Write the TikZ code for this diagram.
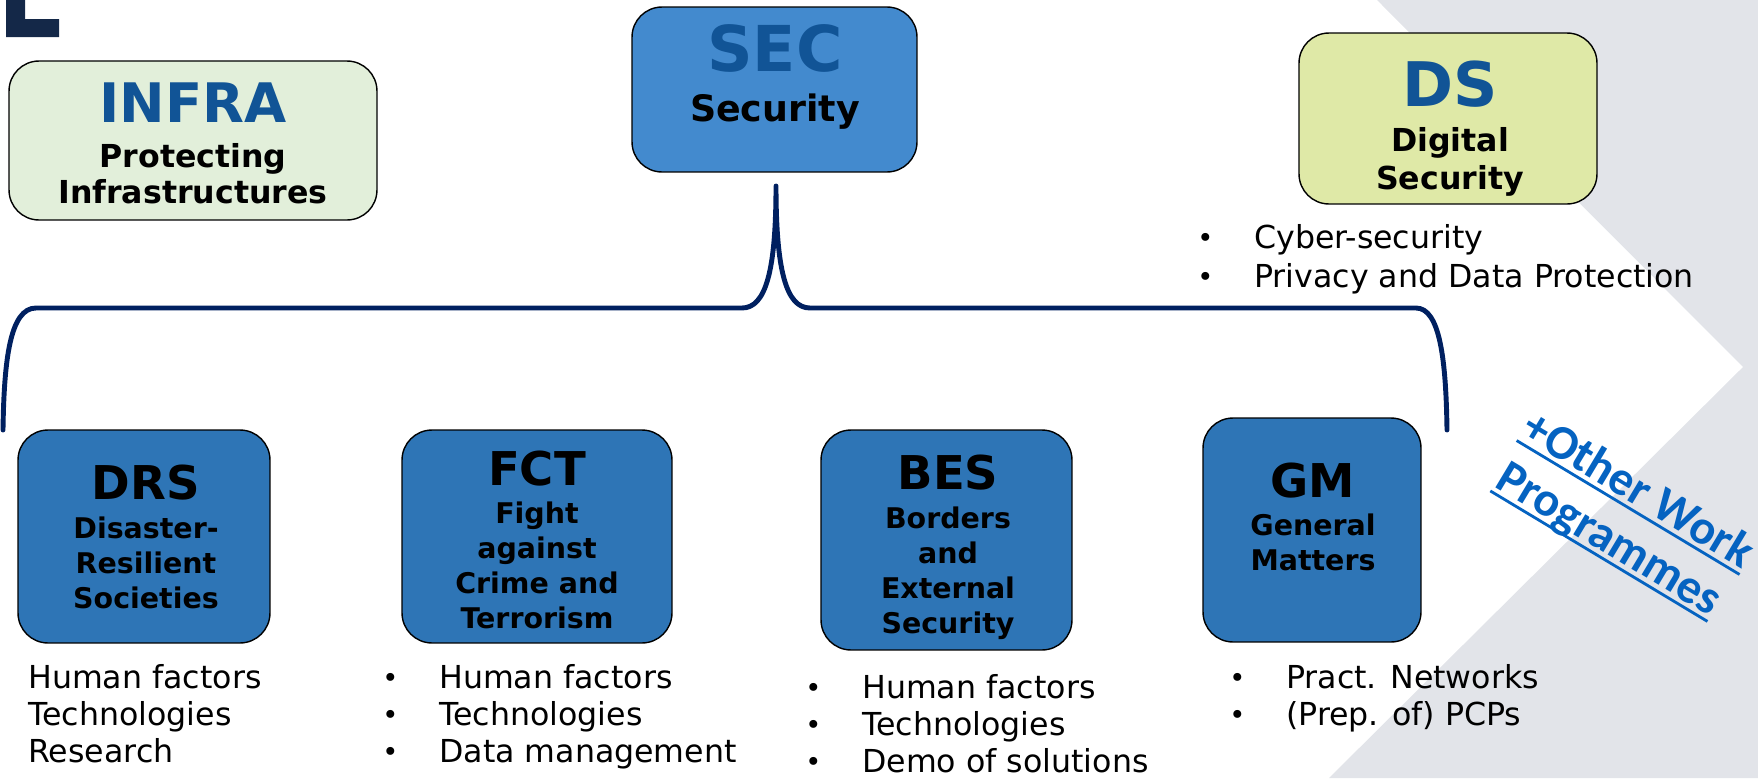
\documentclass[tikz,border=0pt]{standalone}
\usepackage{fontspec}
\setmainfont{DejaVu Sans}
\newfontfamily\calfont{Carlito}
\usepackage{xcolor}

\definecolor{infragreen}{RGB}{226,239,218}
\definecolor{dsgreen}{RGB}{223,233,167}
\definecolor{secblue}{RGB}{67,138,206}
\definecolor{wpblue}{RGB}{46,117,182}
\definecolor{titleblue}{RGB}{17,84,150}
\definecolor{bracenavy}{RGB}{0,32,96}
\definecolor{cornernavy}{RGB}{20,40,72}
\definecolor{bggrey}{RGB}{226,228,233}
\definecolor{linkblue}{RGB}{5,99,193}

\newcommand{\bigtitle}[2]{{\fontsize{#1}{#1}\selectfont\color{titleblue}#2}}
\newcommand{\wptitle}[1]{{\fontsize{26.5}{26.5}\selectfont #1}}
\newcommand{\blt}{\makebox[32.4pt][l]{\raisebox{0.5pt}{\fontsize{15.5}{15.5}\selectfont\textbullet}}}
\newcommand{\owline}[1]{\setbox0=\hbox{#1}\rlap{\rule[-4pt]{\wd0}{1.6pt}}\box0}

\begin{document}
\begin{tikzpicture}[
    x=0.02cm, y=-0.02cm,
    box/.style={draw=black, line width=0.8pt, rounded corners=0.6cm, inner sep=0pt},
    wpbox/.style 2 args={box, fill=wpblue, minimum width=#1, minimum height=#2},
    boxtext/.style={align=center, inner sep=0pt, font=\fontsize{16.2}{19.9}\selectfont\bfseries},
    listtext/.style={inner sep=0pt, anchor=base west, font=\fontsize{18}{21.3}\selectfont},
    brace/.style={draw=bracenavy, line width=2.8pt, line cap=round, line join=round}
]

    \useasboundingbox (0,0) rectangle (1758,778);

    % background
    \fill[bggrey] (1377,0) -- (1758,0) -- (1758,778) -- (1329,778) -- (1743,367) -- cycle;
    \fill[cornernavy] (6,0) -- (25,0) -- (25,19) -- (59,19) -- (59,37) -- (6,37) -- cycle;

    % brace below SEC
    \coordinate (tip) at (776,186);
    \coordinate (left end) at (3,430);
    \coordinate (right end) at (1447,430);
    \draw[brace] (left end) .. controls (4,360) and (10,308) .. (36,308) -- (742,308)
        .. controls (766,308) and (776,270) .. (tip)
        .. controls (776,270) and (786,308) .. (810,308) -- (1416,308)
        .. controls (1440,308) and (1446,360) .. (right end);

    % top row
    \node[box, fill=infragreen, minimum width=7.36cm, minimum height=3.18cm] (infra) at (193,140.5) {};
    \node[boxtext, font=\fontsize{18}{20.5}\selectfont\bfseries] (infra text) at (193,143)
        {\bigtitle{31}{INFRA}\\[5.1pt]Protecting\\Infrastructures};

    \node[box, fill=secblue, minimum width=5.7cm, minimum height=3.3cm] (sec) at (774.5,89.5) {};
    \node[boxtext, font=\fontsize{20.7}{28.5}\selectfont\bfseries] (sec text) at (775,76.5)
        {\bigtitle{36}{SEC}\\Security};

    \node[box, fill=dsgreen, minimum width=5.96cm, minimum height=3.42cm] (ds) at (1448,118.5) {};
    \node[boxtext, font=\fontsize{18}{21.6}\selectfont\bfseries] (ds text) at (1450,128.5)
        {\bigtitle{35}{DS}\\[4pt]Digital\\Security};

    \node[listtext, font=\fontsize{18}{22.2}\selectfont] (ds list) at (1197,248)
        {\begin{tabular}[t]{@{}l@{}l@{}}\blt & Cyber-security\\ \blt & Privacy and Data Protection\end{tabular}};

    % work programme boxes
    \node[wpbox={5.04cm}{4.26cm}] (drs) at (144,536.5) {};
    \node[boxtext] (drs text) at (146,536.5) {\wptitle{DRS}\\[2.3pt]Disaster-\\Resilient\\Societies};

    \node[wpbox={5.4cm}{4.26cm}] (fct) at (537,536.5) {};
    \node[boxtext] (fct text) at (537,539.5) {\wptitle{FCT}\\[1.7pt]Fight\\against\\Crime and\\Terrorism};

    \node[wpbox={5.02cm}{4.4cm}] (bes) at (946.5,540) {};
    \node[boxtext] (bes text) at (948,547) {\wptitle{BES}\\[2.3pt]Borders\\and\\External\\Security};

    \node[wpbox={4.36cm}{4.48cm}] (gm) at (1312,530) {};
    \node[boxtext] (gm text) at (1313,516.5) {\wptitle{GM}\\[1.7pt]General\\Matters};

    % topic lists
    \node[listtext] (drs list) at (28,688)
        {\begin{tabular}[t]{@{}l@{}}Human factors\\Technologies\\Research\end{tabular}};
    \node[listtext] (fct list) at (382,688)
        {\begin{tabular}[t]{@{}l@{}l@{}}\blt & Human factors\\ \blt & Technologies\\ \blt & Data management\end{tabular}};
    \node[listtext] (bes list) at (805,698)
        {\begin{tabular}[t]{@{}l@{}l@{}}\blt & Human factors\\ \blt & Technologies\\ \blt & Demo of solutions\end{tabular}};
    \node[listtext] (gm list) at (1229,688)
        {\begin{tabular}[t]{@{}l@{}l@{}}\blt & Pract. Networks\\ \blt & (Prep. of) PCPs\end{tabular}};

    \node[rotate=-31, align=center, inner sep=0pt, text=linkblue,
        font=\calfont\fontsize{27.5}{32.3}\selectfont\bfseries] (other wp) at (1623,516)
        {\owline{+Other Work}\\\owline{Programmes}};

\end{tikzpicture}
\end{document}
